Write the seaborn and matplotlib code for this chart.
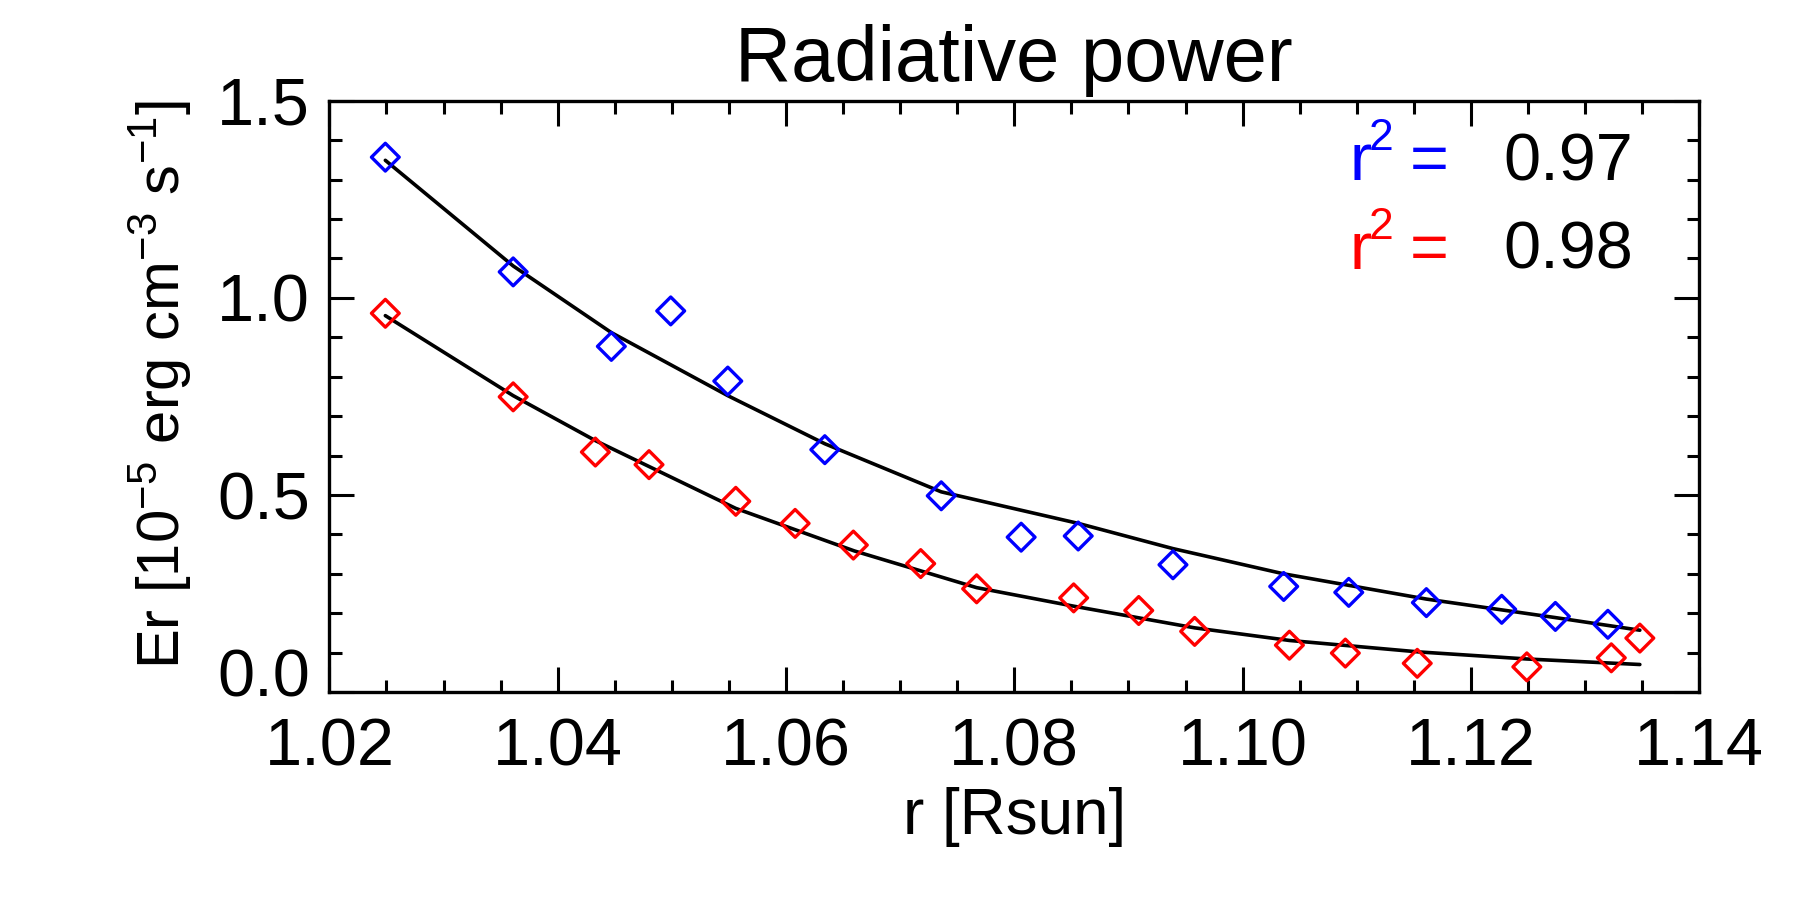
import matplotlib
matplotlib.use("Agg")
import matplotlib.pyplot as plt
import matplotlib.transforms as mtransforms
from matplotlib.ticker import MultipleLocator
import seaborn as sns
import pandas as pd

# ---- data ----
blue_r = [1.0249, 1.0361, 1.0447, 1.0499, 1.0549, 1.0634, 1.0736, 1.0806,
          1.0856, 1.0939, 1.1036, 1.1093, 1.1161, 1.1227, 1.1274, 1.1320]
blue_er = [1.357, 1.066, 0.877, 0.967, 0.789, 0.615, 0.498, 0.393,
           0.396, 0.323, 0.268, 0.253, 0.227, 0.210, 0.192, 0.172]

red_r = [1.0249, 1.0361, 1.0433, 1.0480, 1.0556, 1.0608, 1.0659, 1.0718, 1.0767,
         1.0852, 1.0909, 1.0958, 1.1041, 1.1090, 1.1153, 1.1249, 1.1323, 1.1348]
red_er = [0.961, 0.749, 0.609, 0.577, 0.484, 0.428, 0.373, 0.326, 0.262,
          0.239, 0.207, 0.154, 0.119, 0.099, 0.073, 0.064, 0.087, 0.137]

blue_fit_r = [1.0249, 1.0361, 1.0447, 1.0549, 1.0634, 1.0736, 1.0856, 1.0939,
              1.1036, 1.1161, 1.1274, 1.1348]
blue_fit_er = [1.349, 1.081, 0.912, 0.752, 0.630, 0.508, 0.428, 0.364,
               0.300, 0.236, 0.189, 0.157]

red_fit_r = [1.0249, 1.0361, 1.0433, 1.0556, 1.0660, 1.0767, 1.0852, 1.0958,
             1.1041, 1.1154, 1.1249, 1.1348]
red_fit_er = [0.955, 0.752, 0.638, 0.466, 0.358, 0.265, 0.218, 0.163,
              0.131, 0.102, 0.084, 0.070]

r2_blue = "0.97"
r2_red = "0.98"
x_ticks = [1.02, 1.04, 1.06, 1.08, 1.10, 1.12, 1.14]
y_ticks = [0.0, 0.5, 1.0, 1.5]

# ---- style ----
sns.set_style("ticks")
plt.rcParams['font.family'] = ['Liberation Sans', 'DejaVu Sans']
plt.rcParams['mathtext.fontset'] = 'custom'
plt.rcParams['mathtext.rm'] = 'Liberation Sans'
plt.rcParams['mathtext.it'] = 'Liberation Sans'
plt.rcParams['mathtext.default'] = 'regular'
plt.rcParams['text.color'] = 'black'
plt.rcParams['axes.labelcolor'] = 'black'

fig = plt.figure(figsize=(18, 9), dpi=100)
ax = fig.add_axes([0.183, 0.231, 0.761, 0.657])

df_b = pd.DataFrame({"r": blue_r, "er": blue_er})
df_r = pd.DataFrame({"r": red_r, "er": red_er})
df_bf = pd.DataFrame({"r": blue_fit_r, "er": blue_fit_er})
df_rf = pd.DataFrame({"r": red_fit_r, "er": red_fit_er})

sns.lineplot(data=df_bf, x="r", y="er", color="black", linewidth=2.6, ax=ax, sort=True)
sns.lineplot(data=df_rf, x="r", y="er", color="black", linewidth=2.6, ax=ax, sort=True)
sns.scatterplot(data=df_b, x="r", y="er", marker="D", s=200, facecolors="none",
                edgecolor="#0000ff", linewidth=2.4, ax=ax, zorder=3)
sns.scatterplot(data=df_r, x="r", y="er", marker="D", s=200, facecolors="none",
                edgecolor="#ff0000", linewidth=2.4, ax=ax, zorder=3)

ax.set_xlim(1.02, 1.14)
ax.set_ylim(0.0, 1.5)
ax.set_xticks(x_ticks)
ax.set_xticklabels([f"{v:.2f}" for v in x_ticks])
ax.set_yticks(y_ticks)
ax.set_yticklabels([f"{v:.1f}" for v in y_ticks])
ax.xaxis.set_minor_locator(MultipleLocator(0.005))
ax.yaxis.set_minor_locator(MultipleLocator(0.1))

ax.tick_params(which='both', direction='in', top=True, right=True,
               width=2.2, colors='black')
ax.tick_params(which='major', length=18, labelsize=48)
ax.tick_params(which='minor', length=9)
ax.tick_params(axis='x', which='major', pad=18)
ax.tick_params(axis='y', which='major', pad=14)
for sp in ax.spines.values():
    sp.set_linewidth(2.4)
    sp.set_color('black')

# IDL nudges the bottom y label up
lab0 = ax.get_yticklabels()[0]
lab0.set_transform(lab0.get_transform() +
                   mtransforms.ScaledTranslation(0, 20 / 100, fig.dpi_scale_trans))

ax.set_xlabel("r [Rsun]", fontsize=46, labelpad=6)
ax.set_ylabel("Er [10$^{-5}$ erg cm$^{-3}$ s$^{-1}$]", fontsize=43)
ax.yaxis.set_label_coords(-0.099, 0.52)
ax.set_title("Radiative power", fontsize=56, pad=14)

def r2_label(y, color, value):
    ax.text(0.745, y, "r", color=color, fontsize=48,
            transform=ax.transAxes, ha='left', va='baseline')
    ax.text(0.759, y + 0.05, "2", color=color, fontsize=32,
            transform=ax.transAxes, ha='left', va='baseline')
    ax.text(0.789, y, "=", color=color, fontsize=48,
            transform=ax.transAxes, ha='left', va='baseline')
    ax.text(0.857, y, value, color="black", fontsize=48,
            transform=ax.transAxes, ha='left', va='baseline')

r2_label(0.866, "#0000ff", r2_blue)
r2_label(0.716, "#ff0000", r2_red)

fig.savefig("out.png", dpi=100, facecolor="white")
